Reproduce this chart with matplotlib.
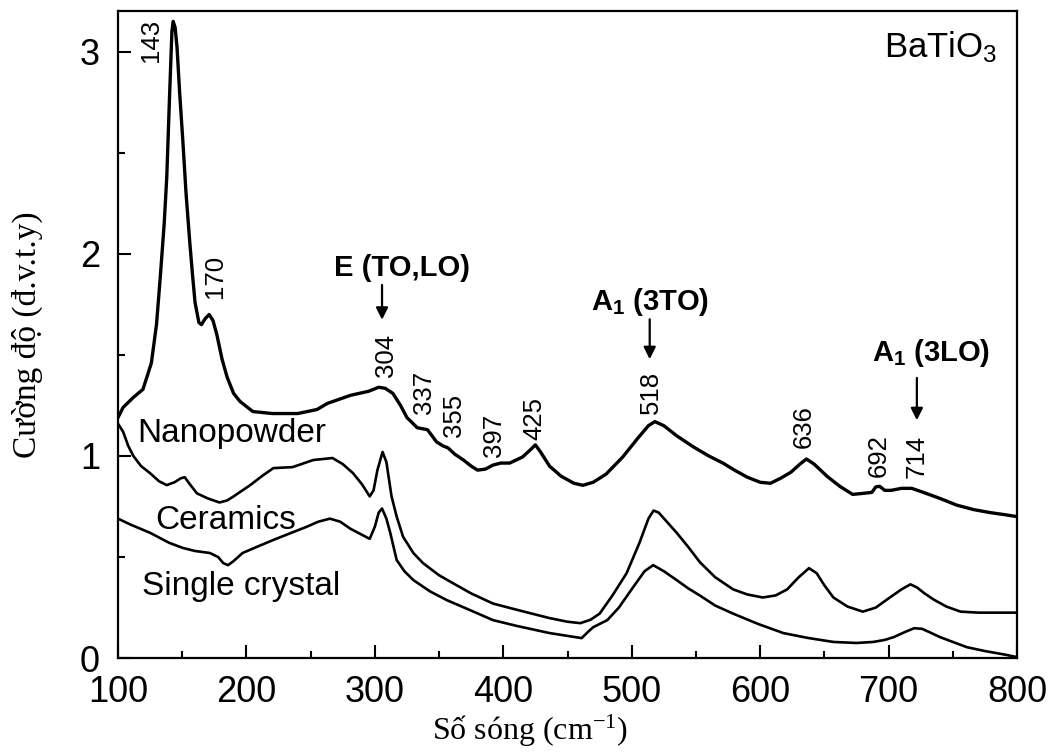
import matplotlib
matplotlib.use("Agg")
import matplotlib.pyplot as plt
from matplotlib.ticker import MultipleLocator

plt.rcParams['mathtext.fontset'] = 'custom'
plt.rcParams['mathtext.rm'] = 'Liberation Serif'
plt.rcParams['mathtext.it'] = 'Liberation Serif:italic'
plt.rcParams['mathtext.sf'] = 'Liberation Sans'
plt.rcParams['mathtext.bf'] = 'Liberation Sans:bold'

SANS = ['Liberation Sans', 'DejaVu Sans']
SERIF = ['Liberation Serif', 'DejaVu Serif']

# --- data ---
nano_x = [100, 104, 112, 119.5, 126, 130, 133, 136, 138, 140, 142, 143, 144.5, 146, 148,
          150.6, 153, 156, 158, 160, 163, 165, 168, 171, 174, 177, 181, 185, 190, 195,
          205, 220, 240, 255, 263, 281, 295, 303, 308, 314, 320, 325, 333, 337, 341,
          348, 353, 357, 362, 369, 375, 380, 386, 392, 398, 405, 410, 415, 421, 425,
          429, 436, 445, 455, 462, 470, 480, 493, 505, 513, 518, 525, 535, 548, 560,
          571, 580, 590, 600, 608, 616, 624, 631, 636, 642, 652, 662, 672, 680, 687,
          690, 693, 697, 702, 710, 718, 727, 740, 753, 766, 779, 790, 800]
nano_y = [1.19, 1.24, 1.29, 1.33, 1.46, 1.65, 1.89, 2.15, 2.38, 2.75, 3.10, 3.15, 3.12, 3.02, 2.80,
          2.55, 2.30, 2.05, 1.90, 1.76, 1.66, 1.65, 1.68, 1.70, 1.67, 1.60, 1.48, 1.39, 1.31, 1.27,
          1.22, 1.21, 1.21, 1.23, 1.26, 1.30, 1.32, 1.34, 1.335, 1.31, 1.25, 1.19, 1.14, 1.135, 1.13,
          1.07, 1.05, 1.04, 1.01, 0.98, 0.95, 0.93, 0.935, 0.955, 0.965, 0.965, 0.98, 0.995, 1.03, 1.055,
          1.02, 0.95, 0.90, 0.865, 0.855, 0.87, 0.91, 0.995, 1.09, 1.15, 1.17, 1.15, 1.10, 1.045, 1.0,
          0.965, 0.93, 0.895, 0.87, 0.865, 0.89, 0.92, 0.96, 0.985, 0.96, 0.90, 0.85, 0.81, 0.815, 0.82,
          0.847, 0.85, 0.83, 0.83, 0.84, 0.84, 0.82, 0.79, 0.757, 0.735, 0.72, 0.71, 0.70]

cer_x = [100, 104, 108, 112, 118, 125, 132, 138, 144, 149, 152, 156, 161.5, 170, 179, 185, 190,
         203, 212, 221, 236, 252, 267, 275, 283, 290, 296, 299, 302, 306, 309, 313, 317, 322,
         330, 337.5, 350, 361, 375, 392, 410, 436, 450, 460, 468, 475, 485, 496, 506, 513, 517,
         521, 528, 535, 544, 553, 565, 579, 590, 602, 612, 621, 630, 638, 644, 650, 657, 668,
         680, 690, 701, 710, 717, 722, 728, 735, 745, 756, 770, 785, 800]
cer_y = [1.16, 1.12, 1.05, 1.00, 0.95, 0.915, 0.875, 0.856, 0.87, 0.89, 0.895, 0.86, 0.815, 0.79, 0.77, 0.78, 0.80,
         0.856, 0.90, 0.94, 0.945, 0.98, 0.99, 0.96, 0.915, 0.86, 0.80, 0.83, 0.93, 1.02, 0.97, 0.80, 0.70, 0.60,
         0.52, 0.47, 0.41, 0.37, 0.32, 0.27, 0.24, 0.198, 0.18, 0.173, 0.19, 0.22, 0.31, 0.42, 0.57, 0.69, 0.73,
         0.72, 0.67, 0.62, 0.55, 0.475, 0.40, 0.34, 0.315, 0.30, 0.31, 0.34, 0.40, 0.445, 0.42, 0.36, 0.30, 0.255,
         0.23, 0.25, 0.30, 0.34, 0.365, 0.35, 0.32, 0.29, 0.255, 0.23, 0.225, 0.225, 0.225]

sc_x = [100, 110, 125, 140, 150.6, 160, 171.6, 178, 182, 185.7, 190, 197, 208, 220.7, 235, 247,
        256, 265, 273, 281, 290, 296, 300, 303, 305.6, 309, 312, 317, 323, 330, 343, 356, 375,
        392, 410, 436, 450, 461, 466, 470, 481, 490, 501, 510, 516.7, 525, 535, 544, 553, 565,
        579, 598, 618, 637, 657, 675, 688, 697, 704, 713, 720, 726, 733, 740, 750, 761, 775, 790, 800]
sc_y = [0.69, 0.66, 0.62, 0.57, 0.545, 0.53, 0.52, 0.50, 0.47, 0.46, 0.48, 0.52, 0.55, 0.584, 0.62, 0.65,
        0.675, 0.69, 0.675, 0.64, 0.61, 0.59, 0.65, 0.72, 0.74, 0.69, 0.62, 0.485, 0.43, 0.386, 0.33, 0.287, 0.235,
        0.188, 0.16, 0.124, 0.11, 0.099, 0.13, 0.153, 0.188, 0.25, 0.35, 0.43, 0.46, 0.43, 0.386, 0.345, 0.31, 0.26,
        0.22, 0.17, 0.124, 0.10, 0.08, 0.075, 0.08, 0.09, 0.104, 0.13, 0.148, 0.145, 0.125, 0.104, 0.08, 0.054,
        0.035, 0.018, 0.005]

# peak numbers: (label, x, y of bottom end)
peak_labels = ["143", "170", "304", "337", "355", "397", "425", "518", "636", "692", "714"]
peak_lx = [125.7, 175.5, 308.5, 338, 361.7, 392.8, 424, 515, 634, 692, 722]
peak_ly = [2.95, 1.78, 1.39, 1.21, 1.094, 0.995, 1.08, 1.21, 1.04, 0.896, 0.89]

# mode labels with arrows
mode_labels = ["E (TO,LO)", "A$_\\mathbf{1}$ (3TO)", "A$_\\mathbf{1}$ (3LO)"]
mode_tx = [321, 514, 733]
mode_ty = [1.93, 1.76, 1.51]
arrow_x = [305.6, 514, 722]
arrow_y0 = [1.86, 1.69, 1.40]
arrow_y1 = [1.66, 1.465, 1.163]

fig = plt.figure(figsize=(10.57, 7.53), dpi=100)
ax = fig.add_axes([0.1116, 0.126, 0.8506, 0.859])

ax.plot(nano_x, nano_y, color='black', lw=2.4, solid_joinstyle='round')
ax.plot(cer_x, cer_y, color='black', lw=1.9, solid_joinstyle='round')
ax.plot(sc_x, sc_y, color='black', lw=1.9, solid_joinstyle='round')

ax.set_xlim(100, 800)
ax.set_ylim(0, 3.2)
ax.xaxis.set_major_locator(MultipleLocator(100))
ax.xaxis.set_minor_locator(MultipleLocator(50))
ax.yaxis.set_major_locator(MultipleLocator(1))
ax.yaxis.set_minor_locator(MultipleLocator(0.5))
ax.tick_params(which='both', direction='in', top=False, right=False, width=1.5)
ax.tick_params(which='major', length=9.5)
ax.tick_params(which='minor', length=5)
ax.tick_params(axis='x', pad=12)
ax.tick_params(axis='y', pad=13)
for sp in ax.spines.values():
    sp.set_linewidth(1.6)
for lab in ax.get_xticklabels() + ax.get_yticklabels():
    lab.set_family(SANS)
    lab.set_fontsize(26)

ax.set_xlabel("Số sóng (cm$^{-1}$)", family=SERIF, fontsize=23)
ax.xaxis.set_label_coords(0.458, -0.085)
ax.set_ylabel("Cường độ (đ.v.t.y)", family=SERIF, fontsize=24)
ax.yaxis.set_label_coords(-0.083, 0.5)

for t, x, y in zip(peak_labels, peak_lx, peak_ly):
    ax.text(x, y, t, rotation=90, ha='center', va='bottom', family=SANS, fontsize=18.5)

for t, x, y in zip(mode_labels, mode_tx, mode_ty):
    ax.text(x, y, t, ha='center', va='center', family=SANS, fontsize=21, fontweight='bold')
for x, y0, y1 in zip(arrow_x, arrow_y0, arrow_y1):
    ax.annotate("", xy=(x, y1), xytext=(x, y0),
                arrowprops=dict(arrowstyle='-|>', color='black', lw=1.6, mutation_scale=18))

ax.text(114.8, 1.11, "Nanopowder", ha='left', va='center', family=SANS, fontsize=24)
ax.text(128.8, 0.68, "Ceramics", ha='left', va='center', family=SANS, fontsize=24)
ax.text(118.7, 0.356, "Single crystal", ha='left', va='center', family=SANS, fontsize=24)
ax.text(784.6, 3.02, "BaTiO$_\\mathsf{3}$", ha='right', va='center', family=SANS, fontsize=25)

fig.savefig("out.png", dpi=100)
